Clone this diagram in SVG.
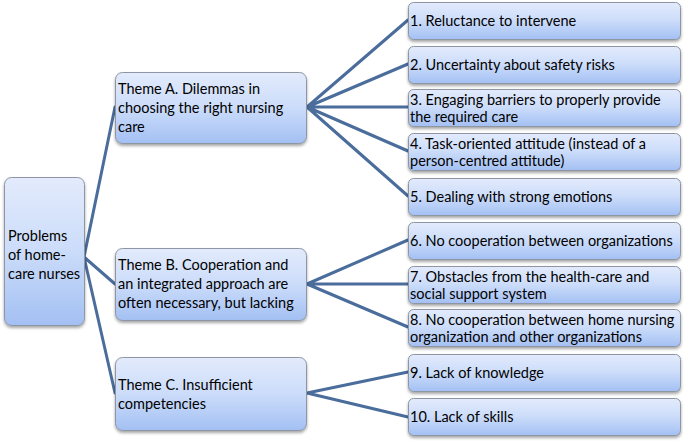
<svg xmlns="http://www.w3.org/2000/svg" width="685" height="443" viewBox="0 0 685 443">
<style>
.box{fill:url(#g);stroke:#8f96a3;stroke-width:1;filter:url(#sh)}
.t{font-family:Lato,"Open Sans","Liberation Sans",sans-serif;font-size:14.5px;fill:#000}
.c{stroke:#4a6d9c;stroke-width:3;fill:none;stroke-linecap:round}
</style>
<defs>
<linearGradient id="g" x1="0" y1="0" x2="0" y2="1">
<stop offset="0" stop-color="#e3ebfc"/>
<stop offset="0.5" stop-color="#cbdcfa"/>
<stop offset="1" stop-color="#a3c0f3"/>
</linearGradient>
<filter id="sh" x="-10%" y="-10%" width="120%" height="130%">
<feDropShadow dx="0" dy="2" stdDeviation="1.5" flood-color="#000" flood-opacity="0.35"/>
</filter>
</defs>
<g id="connectors">
<path class="c" d="M84 257L115 107M84 257L115 284M84 257L115 393"/>
<path class="c" d="M307 107L408 20M307 107L408 64M307 107L408 107M307 107L408 151M307 107L408 196"/>
<path class="c" d="M307 284L408 240M307 284L408 284M307 284L408 327"/>
<path class="c" d="M307 393L408 372M307 393L408 417"/>
</g>
<g id="root">
<rect class="box" x="4.5" y="177.5" width="80" height="148" rx="7"/>
<text class="t" x="8" y="241">Problems</text>
<text class="t" x="8" y="260">of home-</text>
<text class="t" x="8" y="279">care nurses</text>
</g>
<g id="themeA">
<rect class="box" x="115.5" y="72.5" width="191" height="71" rx="7"/>
<text class="t" x="118" y="94">Theme A. Dilemmas in</text>
<text class="t" x="118" y="113">choosing the right nursing</text>
<text class="t" x="118" y="132">care</text>
</g>
<g id="themeB">
<rect class="box" x="115.5" y="248.5" width="191" height="72" rx="7"/>
<text class="t" x="118" y="270">Theme B. Cooperation and</text>
<text class="t" x="118" y="289">an integrated approach are</text>
<text class="t" x="118" y="308">often necessary, but lacking</text>
</g>
<g id="themeC">
<rect class="box" x="115.5" y="357.5" width="191" height="73" rx="7"/>
<text class="t" x="118" y="390">Theme C. Insufficient</text>
<text class="t" x="118" y="409">competencies</text>
</g>
<g id="item1">
<rect class="box" x="408.5" y="2.5" width="272" height="37" rx="5"/>
<text class="t" x="410" y="26">1. Reluctance to intervene</text>
</g>
<g id="item2">
<rect class="box" x="408.5" y="46.5" width="272" height="37" rx="5"/>
<text class="t" x="410" y="70">2. Uncertainty about safety risks</text>
</g>
<g id="item3">
<rect class="box" x="408.5" y="89.5" width="272" height="37" rx="5"/>
<text class="t" x="410" y="104.5">3. Engaging barriers to properly provide</text>
<text class="t" x="410" y="121.5">the required care</text>
</g>
<g id="item4">
<rect class="box" x="408.5" y="133.5" width="272" height="37" rx="5"/>
<text class="t" x="410" y="148.5">4. Task-oriented attitude (instead of a</text>
<text class="t" x="410" y="165.5">person-centred attitude)</text>
</g>
<g id="item5">
<rect class="box" x="408.5" y="178.5" width="272" height="37" rx="5"/>
<text class="t" x="410" y="202">5. Dealing with strong emotions</text>
</g>
<g id="item6">
<rect class="box" x="408.5" y="222.5" width="272" height="37" rx="5"/>
<text class="t" x="410" y="246">6. No cooperation between organizations</text>
</g>
<g id="item7">
<rect class="box" x="408.5" y="266.5" width="272" height="37" rx="5"/>
<text class="t" x="410" y="281.5">7. Obstacles from the health-care and</text>
<text class="t" x="410" y="298.5">social support system</text>
</g>
<g id="item8">
<rect class="box" x="408.5" y="309.5" width="272" height="37" rx="5"/>
<text class="t" x="410" y="324.5">8. No cooperation between home nursing</text>
<text class="t" x="410" y="341.5">organization and other organizations</text>
</g>
<g id="item9">
<rect class="box" x="408.5" y="354.5" width="272" height="37" rx="5"/>
<text class="t" x="410" y="378">9. Lack of knowledge</text>
</g>
<g id="item10">
<rect class="box" x="408.5" y="398.5" width="272" height="37" rx="5"/>
<text class="t" x="410" y="422">10. Lack of skills</text>
</g>
</svg>
